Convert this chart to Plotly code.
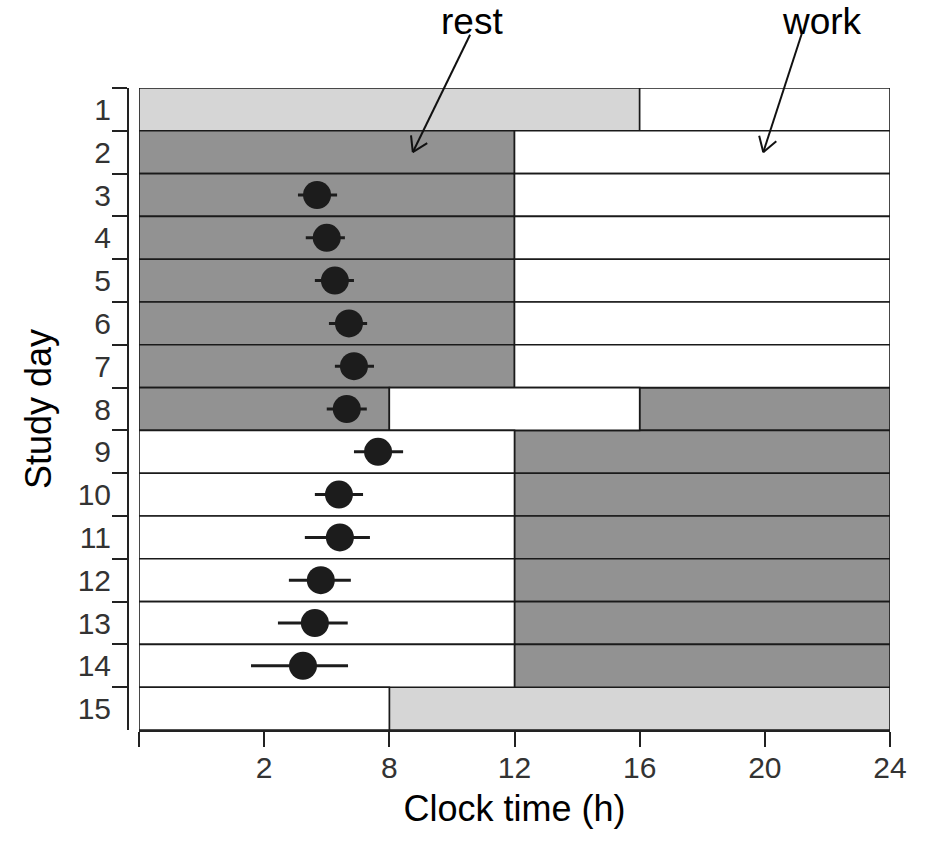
import math
import plotly.graph_objects as go

# Schedule of each study day: segments of the 24 h clock and their state
seg_day = [1, 1,
           2, 2, 3, 3, 4, 4, 5, 5, 6, 6, 7, 7,
           8, 8, 8,
           9, 9, 10, 10, 11, 11, 12, 12, 13, 13, 14, 14,
           15, 15]
seg_start = [0, 16,
             0, 12, 0, 12, 0, 12, 0, 12, 0, 12, 0, 12,
             0, 8, 16,
             0, 12, 0, 12, 0, 12, 0, 12, 0, 12, 0, 12,
             0, 8]
seg_end = [16, 24,
           12, 24, 12, 24, 12, 24, 12, 24, 12, 24, 12, 24,
           8, 16, 24,
           12, 24, 12, 24, 12, 24, 12, 24, 12, 24, 12, 24,
           8, 24]
seg_kind = ["light", "white",
            "dark", "white", "dark", "white", "dark", "white", "dark", "white",
            "dark", "white", "dark", "white",
            "dark", "white", "dark",
            "white", "dark", "white", "dark", "white", "dark", "white", "dark",
            "white", "dark", "white", "dark",
            "white", "light"]

# Phase estimates (clock hours) with asymmetric spread
phase_day = [3, 4, 5, 6, 7, 8, 9, 10, 11, 12, 13, 14]
phase_time = [5.69, 6.0, 6.26, 6.71, 6.87, 6.64, 7.64, 6.39, 6.42, 5.81, 5.62, 5.24]
phase_plus = [0.64, 0.58, 0.61, 0.58, 0.64, 0.64, 0.80, 0.77, 0.96, 0.96, 1.05, 1.44]
phase_minus = [0.61, 0.67, 0.64, 0.64, 0.61, 0.64, 0.77, 0.77, 1.12, 1.02, 1.18, 1.66]

day_labels = [str(d) for d in range(1, 16)]
x_tickvals = [0, 4, 8, 12, 16, 20, 24]
x_ticktext = ["", "2", "8", "12", "16", "20", "24"]

fill_colors = {"light": "#d6d6d6", "dark": "#929292", "white": "#ffffff"}

W, H = 926, 842
M = dict(l=128, r=36, t=88, b=112)
plot_w = W - M["l"] - M["r"]
plot_h = H - M["t"] - M["b"]
x_dom0 = 11 / plot_w
px_per_hour = plot_w * (1 - x_dom0) / 24

fig = go.Figure()

for kind in ["light", "dark", "white"]:
    idx = [i for i, k in enumerate(seg_kind) if k == kind]
    fig.add_trace(go.Bar(
        orientation="h",
        y=[str(seg_day[i]) for i in idx],
        x=[seg_end[i] - seg_start[i] for i in idx],
        base=[seg_start[i] for i in idx],
        width=1,
        marker=dict(color=fill_colors[kind], line=dict(color="#1a1a1a", width=1.6)),
        showlegend=False,
        hoverinfo="skip",
    ))

fig.add_trace(go.Scatter(
    x=phase_time,
    y=[str(d) for d in phase_day],
    mode="markers",
    marker=dict(size=28, color="#1c1c1c"),
    error_x=dict(type="data", array=phase_plus, arrayminus=phase_minus,
                 color="#1c1c1c", thickness=3, width=0),
    showlegend=False,
))

tick_font = dict(family="Liberation Sans, Arial, sans-serif", size=30, color="#333333")
title_font = dict(family="Liberation Sans, Arial, sans-serif", size=36, color="#000000")
label_font = dict(family="Liberation Sans, Arial, sans-serif", size=37, color="#000000")

fig.update_layout(
    width=W, height=H,
    margin=M,
    paper_bgcolor="white", plot_bgcolor="white",
    barmode="overlay",
    xaxis=dict(
        domain=[x_dom0, 1], range=[0, 24],
        tickmode="array", tickvals=x_tickvals, ticktext=x_ticktext,
        ticks="outside", ticklen=15, tickwidth=2, tickcolor="#222",
        ticklabelstandoff=-5,
        showline=True, linecolor="#222", linewidth=2,
        showgrid=False, zeroline=False,
        tickfont=tick_font,
        title=dict(text="Clock time (h)", font=title_font, standoff=13),
    ),
    yaxis=dict(
        type="category", categoryorder="array", categoryarray=day_labels,
        range=[14.5, -0.5],
        anchor="free", position=0,
        tickson="boundaries",
        ticks="outside", ticklen=15, tickwidth=2, tickcolor="#222",
        ticklabelstandoff=10,
        showline=True, linecolor="#222", linewidth=2,
        showgrid=False, zeroline=False,
        tickfont=tick_font,
        title=dict(text="Study day", font=title_font, standoff=14),
    ),
)

# "rest" / "work" labels with thin open-headed arrows into day 2
# each arrow: (tail hour, tail paper-y, tip hour, tip paper-y)
row_center_day2 = 1 - 1.5 / 15
arrows = [
    ("rest", 10.64, (10.58, 1.083, 8.75, row_center_day2)),
    ("work", 21.83, (21.19, 1.086, 19.95, row_center_day2)),
]
head_len = 17
head_angle = math.radians(32)

for text, text_x, (x0, y0, x1, y1) in arrows:
    fig.add_annotation(x=text_x, y=1.103, xref="x", yref="paper", text=text,
                       showarrow=False, font=label_font, yanchor="middle")
    fig.add_shape(type="line", xref="x", yref="paper", x0=x0, y0=y0, x1=x1, y1=y1,
                  line=dict(color="#111", width=2))
    # back direction in screen pixels (y grows downward)
    dx = (x0 - x1) * px_per_hour
    dy = -(y0 - y1) * plot_h
    base = math.atan2(dy, dx)
    for sgn in (-1, 1):
        a = base + sgn * head_angle
        hx = x1 + head_len * math.cos(a) / px_per_hour
        hy = y1 - head_len * math.sin(a) / plot_h
        fig.add_shape(type="line", xref="x", yref="paper", x0=x1, y0=y1, x1=hx, y1=hy,
                      line=dict(color="#111", width=2))

fig.write_html("out.html")
